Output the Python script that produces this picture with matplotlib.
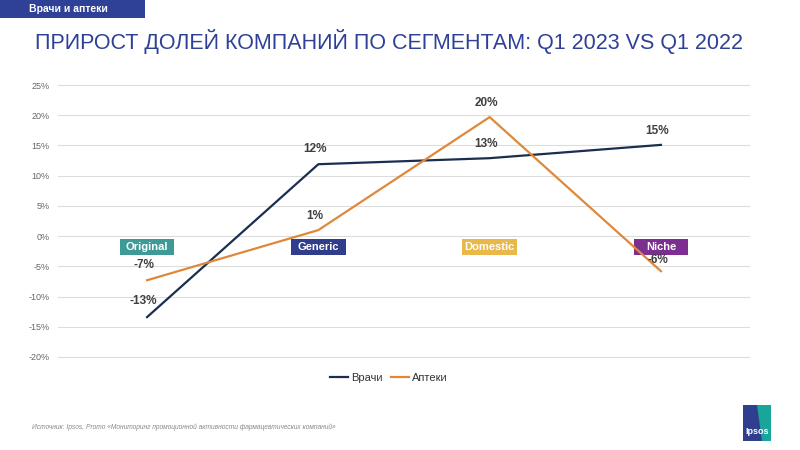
import matplotlib.pyplot as plt
from matplotlib.patches import Rectangle, Polygon

# data
segments = ["Original", "Generic", "Domestic", "Niche"]
seg_colors = ["#3d9a96", "#2f3d8c", "#e9b84a", "#7d2e91"]
vrachi = [-13.4, 11.9, 12.9, 15.1]
apteki = [-7.3, 1.0, 19.7, -5.8]
vrachi_lbl = ["-13%", "12%", "13%", "15%"]
apteki_lbl = ["-7%", "1%", "20%", "-6%"]
yticks = [-20, -15, -10, -5, 0, 5, 10, 15, 20, 25]

c_vr = "#1b2e52"
c_ap = "#e0883a"

plt.rcParams['font.family'] = ['Liberation Sans', 'DejaVu Sans']

fig = plt.figure(figsize=(8, 4.5), dpi=100)
ax = fig.add_axes([0.0725, 0.2, 0.865, 0.615])

x = list(range(len(segments)))
ax.plot(x, vrachi, color=c_vr, lw=1.6, label="Врачи", zorder=3)
ax.plot(x, apteki, color=c_ap, lw=1.6, label="Аптеки", zorder=3)

ax.set_xlim(-0.52, 3.52)
ax.set_ylim(-20.5, 25.3)
ax.set_yticks(yticks)
ax.set_yticklabels([f"{t}%" for t in yticks], fontsize=6.5, color="#666666")
ax.set_xticks([])
ax.grid(axis="y", color="#dddddd", lw=0.8)
ax.set_axisbelow(True)
ax.tick_params(axis="y", length=0, pad=6)
for s in ax.spines.values():
    s.set_visible(False)

# value labels
vr_off = [1.6, 1.6, 1.3, 1.3]
ap_off = [1.6, 1.3, 1.4, 0.9]
for i in x:
    ax.text(i - 0.02, vrachi[i] + vr_off[i], vrachi_lbl[i], ha="center", va="bottom",
            fontsize=8.5, fontweight="bold", color="#404040", zorder=4)
    ax.text(i - 0.02, apteki[i] + ap_off[i], apteki_lbl[i], ha="center", va="bottom",
            fontsize=8.5, fontweight="bold", color="#404040", zorder=4)

# segment tags
box_w = 0.32
for i, (name, col) in enumerate(zip(segments, seg_colors)):
    ax.add_patch(Rectangle((i - box_w / 2, -3.1), box_w, 2.55, fc=col, ec="none", zorder=2))
    ax.text(i, -1.8, name, ha="center", va="center", fontsize=8,
            fontweight="bold", color="white", zorder=2.5)

ax.legend(loc="upper center", bbox_to_anchor=(0.478, -0.01), ncol=2, frameon=False,
          fontsize=8, handlelength=1.6, handletextpad=0.25, columnspacing=0.8,
          labelcolor="#333333")

# header tag
fig.patches.append(Rectangle((0, 1 - 18 / 450), 145 / 800, 18 / 450,
                             transform=fig.transFigure, fc="#2e4196", ec="none"))
fig.text(0.036, 1 - 9 / 450, "Врачи и аптеки", color="white", fontsize=7.5,
         fontweight="bold", va="center", ha="left")

fig.text(0.044, 1 - 42 / 450, "ПРИРОСТ ДОЛЕЙ КОМПАНИЙ ПО СЕГМЕНТАМ: Q1 2023 VS Q1 2022",
         color="#2e4196", fontsize=15.5, va="center", ha="left")

fig.text(0.04, 1 - 427 / 450,
         "Источник: Ipsos, Promo «Мониторинг промоционной активности фармацевтических компаний»",
         color="#888888", fontsize=4.8, style="italic", va="center")

# logo
fig.patches.append(Rectangle((743 / 800, 1 - 441 / 450), 28 / 800, 36 / 450,
                             transform=fig.transFigure, fc="#2f3f8e", ec="none"))
fig.patches.append(Polygon([(757 / 800, 1 - 405 / 450), (771 / 800, 1 - 405 / 450),
                            (771 / 800, 1 - 441 / 450), (762 / 800, 1 - 441 / 450)],
                           closed=True, transform=fig.transFigure, fc="#1aa59a", ec="none"))
fig.text(757 / 800, 1 - 431 / 450, "Ipsos", color="white", fontsize=6.5,
         fontweight="bold", ha="center", va="center")

fig.savefig("out.png", dpi=100)
